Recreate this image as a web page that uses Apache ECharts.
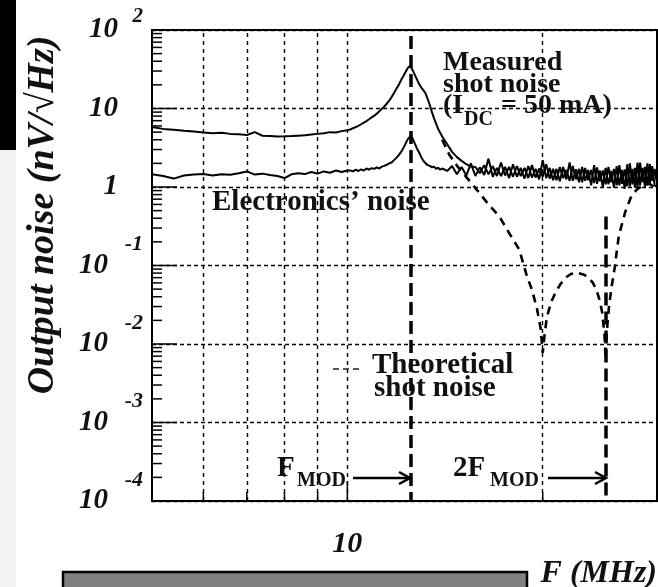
<!DOCTYPE html>
<html>
<head>
<meta charset="utf-8">
<script src="https://cdn.jsdelivr.net/npm/echarts@6.0.0/dist/echarts.min.js"></script>
<style>
html,body{margin:0;padding:0;background:#fff;}
#chart{width:658px;height:587px;}
</style>
</head>
<body>
<div id="chart"></div>
<script>
// ---------- data ----------
const noiseFreq = [
  5.0,5.2,5.4,5.6,5.8,6.0,6.2,6.4,6.6,6.8,7.0,7.2,7.4,7.6,7.8,8.0,8.2,8.4,8.6,8.8,9.0,9.2,9.4,9.6,9.8,10.0,
  10.1,10.2,10.3,10.4,10.5,10.6,10.7,10.8,10.9,11.0,11.1,11.2,11.3,11.4,11.5,11.6,11.7,11.8,11.9,12.0,
  12.1,12.2,12.3,12.4,12.5,12.6,12.7,12.8,12.9,13.0,13.1,13.2,13.3,13.4,13.5,13.6,13.7,13.8,13.9,14.0,
  14.25,14.5,14.75,15.0,15.25,15.5,15.75,16.0,16.25,16.5,16.75,17.0,17.25,17.5,17.75,18.0,
  18.25,18.5,18.75,19.0,19.25,19.5,19.75,20.0,20.25,20.5,20.75,21.0,21.25,21.5,21.75,22.0,
  22.25,22.5,22.75,23.0,23.25,23.5,23.75,24.0,24.25,24.5,24.75,25.0,25.25,25.5,25.75,26.0,
  26.25,26.5,26.75,27.0,27.25,27.5,27.75,28.0,28.25,28.5,28.75,29.0,29.25,29.5,29.75,30.0
];
const measuredNoise = [
  5.8,5.5,5.35,5.2,5.1,4.95,4.85,4.9,4.75,4.7,4.6,5.0,4.5,4.45,4.4,4.42,4.45,4.5,4.55,4.65,4.75,4.85,5.0,4.95,5.15,5.3,
  5.4,5.6,5.8,6.0,6.3,6.6,6.9,7.3,7.7,8.1,8.6,9.2,9.9,10.6,11.5,12.6,14.0,15.8,17.8,20,
  23,26,29.5,33,35,31,27,23.5,20.5,18.5,17,15.5,13.2,11,9,7.5,6.4,5.5,4.9,4.4,
  3.5,2.8,2.4,2.15,1.95,1.82,1.80,1.50,1.90,1.45,1.85,1.38,2.05,1.40,1.80,1.35,
  1.85,1.38,1.75,1.30,1.90,1.32,1.72,1.35,1.95,1.28,1.70,1.22,1.80,1.30,1.65,1.20,
  1.85,1.25,1.70,1.15,1.75,1.22,1.65,1.12,1.78,1.18,1.62,1.08,1.80,1.15,1.70,1.05,
  1.90,1.10,1.68,1.02,2.00,1.08,1.75,1.00,2.05,1.15,1.80,1.05,1.95,1.20,1.70,1.10
];
const electronicsNoise = [
  1.45,1.38,1.28,1.40,1.44,1.46,1.40,1.45,1.43,1.50,1.58,1.44,1.48,1.42,1.38,1.30,1.45,1.50,1.46,1.55,1.48,1.58,1.52,1.62,1.55,1.62,
  1.62,1.58,1.66,1.60,1.68,1.62,1.72,1.66,1.74,1.70,1.78,1.72,1.82,1.86,1.92,2.00,2.05,2.20,2.35,2.55,
  2.80,3.15,3.60,4.10,4.40,4.20,3.60,3.10,2.75,2.40,2.15,2.00,1.90,1.86,1.78,1.82,1.70,1.76,1.66,1.72,
  1.60,1.85,1.45,1.80,1.40,2.00,1.38,1.78,1.42,2.30,1.35,1.75,1.38,1.80,1.30,1.95,
  1.35,1.75,1.28,1.85,1.32,1.70,1.25,2.20,1.30,1.75,1.22,1.70,1.18,1.80,1.25,2.05,
  1.20,1.68,1.15,1.80,1.20,1.65,1.05,1.90,1.10,1.62,1.00,1.75,1.08,1.60,0.98,1.85,
  1.05,1.65,0.95,1.95,1.02,1.70,0.98,2.05,1.05,1.75,1.00,2.00,1.10,1.85,1.05,1.00
];
const theoFreq = [14.0,14.35,14.8,15.3,15.8,16.5,17.15,17.8,18.4,18.9,19.25,19.6,19.85,20.0,20.15,20.3,20.6,20.95,21.3,21.7,22.1,22.6,23.1,23.55,23.9,24.2,24.5,24.7,24.9,25.0,25.1,25.3,25.55,25.8,26.2,26.8,27.4,28.0,28.6,29.2,29.7,30.0];
const theoNoise = [4.0,2.6,1.8,1.3,0.94,0.6,0.42,0.25,0.16,0.074,0.049,0.028,0.016,0.0077,0.014,0.022,0.034,0.046,0.058,0.07,0.078,0.081,0.077,0.07,0.06,0.049,0.035,0.025,0.013,0.0065,0.014,0.03,0.055,0.09,0.24,0.48,0.77,0.95,1.05,1.1,1.0,0.9];

// axis / tick definitions
const xMin = 5, xMax = 30;
const yMin = 0.0001, yMax = 100;
const yTickValues = [100, 10, 1, 0.1, 0.01, 0.001, 0.0001];
const yTickBase   = ['10', '10', '1', '10', '10', '10', '10'];
const yTickExp    = ['2', '', '', '-1', '-2', '-3', '-4'];
const xLabelValues = [10];
const xLabelTexts  = ['10'];
const xGridValues = [6, 7, 8, 9, 10, 20];
const xMinorTicks = [6, 7, 8, 9, 20];
const xMajorTicks = [10];
const yDecades = [0.0001, 0.001, 0.01, 0.1, 1, 10];
const yMinorMult = [2, 3, 4, 5, 6, 7, 8, 9];
const yMajorTicks = [0.001, 0.01, 0.1, 1, 10];
const fModFreq = [12.5, 25];
const fModTop = [84, 0.42];

// ---------- build ----------
const yMinorTicks = [];
yDecades.forEach(d => yMinorMult.forEach(m => yMinorTicks.push([xMin, d * m])));

const SERIF = '"Liberation Serif", "Times New Roman", serif';
const BI = 'bold italic ';
const B = 'bold ';

function yLabel(v) {
  const i = yTickValues.findIndex(t => Math.abs(Math.log10(t) - Math.log10(v)) < 1e-6);
  if (i < 0) return '';
  const e = yTickExp[i], b = yTickBase[i];
  if (e === '') return '{bp|' + b + '}';
  if (e.charAt(0) !== '-') return '{ep|' + e + '}\n{bp|' + b + '}\n{ep| }';
  return '{en|' + e + '}\n{bn|' + b + '}\n{en| }';
}

const chart = echarts.init(document.getElementById('chart'), null, {renderer: 'canvas'});

const gridTop = 30, gridLeft = 152, gridRight = 1, gridBottom = 86;

const markLineData = xGridValues.map(v => ({
  xAxis: v,
  lineStyle: {color: '#000', width: 1.4, type: [4, 4]}
}));
fModFreq.forEach((f, i) => {
  markLineData.push([
    {coord: [f, fModTop[i]], lineStyle: {color: '#000', width: 3.5, type: [13, 6]}},
    {coord: [f, yMin]}
  ]);
});

const option = {
  animation: false,
  backgroundColor: '#fff',
  grid: {left: gridLeft, right: gridRight, top: gridTop, bottom: gridBottom, show: true,
         borderColor: '#000', borderWidth: 2, backgroundColor: 'transparent', containLabel: false},
  xAxis: {
    type: 'log', logBase: 10, min: xMin, max: xMax,
    axisLine: {show: false}, axisTick: {show: false}, splitLine: {show: false},
    axisLabel: {
      show: true, margin: 28, color: '#111',
      fontFamily: SERIF, fontWeight: 'bold', fontStyle: 'italic', fontSize: 30,
      showMinLabel: false, showMaxLabel: false,
      formatter: v => {
        const i = xLabelValues.findIndex(t => Math.abs(t - v) < 1e-6);
        return i < 0 ? '' : xLabelTexts[i];
      }
    }
  },
  yAxis: {
    type: 'log', logBase: 10, min: yMin, max: yMax,
    axisLine: {show: false}, axisTick: {show: false},
    splitLine: {show: true, lineStyle: {color: '#000', width: 1.4, type: [4, 3]}},
    axisLabel: {
      show: true, margin: 9, color: '#111', align: 'right',
      fontFamily: SERIF, fontWeight: 'bold', fontStyle: 'italic', fontSize: 28,
      formatter: yLabel,
      rich: {
        bp: {fontFamily: SERIF, fontWeight: 'bold', fontStyle: 'italic', fontSize: 29, lineHeight: 20, padding: [0, 25, 0, 0], color: '#111'},
        bn: {fontFamily: SERIF, fontWeight: 'bold', fontStyle: 'italic', fontSize: 29, lineHeight: 20, padding: [0, 35, 0, 0], color: '#111'},
        ep: {fontFamily: SERIF, fontWeight: 'bold', fontStyle: 'italic', fontSize: 21, lineHeight: 6, color: '#111'},
        en: {fontFamily: SERIF, fontWeight: 'bold', fontStyle: 'italic', fontSize: 22, lineHeight: 22, color: '#111'}
      }
    }
  },
  series: [
    {
      name: 'Electronics noise', type: 'line', showSymbol: false, symbol: 'none',
      data: noiseFreq.map((f, i) => [f, electronicsNoise[i]]),
      lineStyle: {color: '#000', width: 2}, z: 5,
      markLine: {silent: true, symbol: ['none', 'none'], label: {show: false}, animation: false, data: markLineData}
    },
    {
      name: 'Measured shot noise', type: 'line', showSymbol: false, symbol: 'none',
      data: noiseFreq.map((f, i) => [f, measuredNoise[i]]),
      lineStyle: {color: '#000', width: 2}, z: 5
    },
    {
      name: 'Theoretical shot noise', type: 'line', showSymbol: false, symbol: 'none',
      data: theoFreq.map((f, i) => [f, theoNoise[i]]),
      lineStyle: {color: '#000', width: 2.6, type: [8, 6]}, z: 5
    },
    {
      type: 'custom', name: 'yMinor', clip: false, silent: true, z: 6,
      data: yMinorTicks,
      renderItem: (params, api) => {
        const p = api.coord([api.value(0), api.value(1)]);
        return {type: 'line', shape: {x1: p[0], y1: p[1], x2: p[0] + 10, y2: p[1]}, style: {stroke: '#000', lineWidth: 1.5}};
      }
    },
    {
      type: 'custom', name: 'yMajor', clip: false, silent: true, z: 6,
      data: yMajorTicks.map(v => [xMin, v]),
      renderItem: (params, api) => {
        const p = api.coord([api.value(0), api.value(1)]);
        return {type: 'line', shape: {x1: p[0], y1: p[1], x2: p[0] + 25, y2: p[1]}, style: {stroke: '#000', lineWidth: 1.5}};
      }
    },
    {
      type: 'custom', name: 'xMinor', clip: false, silent: true, z: 6,
      data: xMinorTicks.map(v => [v, yMin]),
      renderItem: (params, api) => {
        const p = api.coord([api.value(0), api.value(1)]);
        return {type: 'line', shape: {x1: p[0], y1: p[1], x2: p[0], y2: p[1] - 9}, style: {stroke: '#000', lineWidth: 1.5}};
      }
    },
    {
      type: 'custom', name: 'xMajor', clip: false, silent: true, z: 6,
      data: xMajorTicks.map(v => [v, yMin]),
      renderItem: (params, api) => {
        const p = api.coord([api.value(0), api.value(1)]);
        return {type: 'line', shape: {x1: p[0], y1: p[1], x2: p[0], y2: p[1] - 20}, style: {stroke: '#000', lineWidth: 1.5}};
      }
    }
  ],
  graphic: [
    {type: 'rect', shape: {x: 0, y: 0, width: 16, height: 150}, style: {fill: '#000'}, z: 1},
    {type: 'rect', shape: {x: 0, y: 150, width: 16, height: 437}, style: {fill: '#f3f3f3'}, z: 1},
    {type: 'rect', shape: {x: 63, y: 572, width: 464, height: 20}, style: {fill: '#808080', stroke: '#000', lineWidth: 2.5}, z: 1},
    {type: 'text', x: 43, y: 215, rotation: Math.PI / 2,
     style: {text: 'Output noise (nV/√Hz)', font: BI + '38px ' + SERIF, fill: '#111', align: 'center', verticalAlign: 'middle'}},
    {type: 'text', x: 657, y: 574,
     style: {text: 'F (MHz)', font: BI + '32px ' + SERIF, fill: '#111', align: 'right', verticalAlign: 'middle'}},
    // Measured shot noise annotation
    {type: 'text', x: 443, y: 63, style: {text: 'Measured', font: B + '28px ' + SERIF, fill: '#111', align: 'left', verticalAlign: 'middle'}, z: 20},
    {type: 'text', x: 443, y: 85, style: {text: 'shot noise', font: B + '28px ' + SERIF, fill: '#111', align: 'left', verticalAlign: 'middle'}, z: 20},
    {type: 'text', x: 443, y: 106, style: {text: '(I', font: B + '28px ' + SERIF, fill: '#111', align: 'left', verticalAlign: 'middle'}, z: 20},
    {type: 'text', x: 464, y: 120, style: {text: 'DC', font: B + '20px ' + SERIF, fill: '#111', align: 'left', verticalAlign: 'middle'}, z: 20},
    {type: 'text', x: 501, y: 106, style: {text: '= 50 mA)', font: B + '28px ' + SERIF, fill: '#111', align: 'left', verticalAlign: 'middle'}, z: 20},
    // Electronics noise
    {type: 'text', x: 212, y: 203, style: {text: 'Electronics’ noise', font: B + '29px ' + SERIF, fill: '#111', align: 'left', verticalAlign: 'middle'}, z: 20},
    // Theoretical
    {type: 'polyline', shape: {points: [[333, 369], [361, 369]]}, style: {stroke: '#222', lineWidth: 1.3, lineDash: [6, 4]}, z: 20},
    {type: 'text', x: 372, y: 366, style: {text: 'Theoretical', font: B + '29px ' + SERIF, fill: '#111', align: 'left', verticalAlign: 'middle'}, z: 20},
    {type: 'text', x: 374, y: 389, style: {text: 'shot noise', font: B + '29px ' + SERIF, fill: '#111', align: 'left', verticalAlign: 'middle'}, z: 20},
    // F_MOD
    {type: 'text', x: 277, y: 469, style: {text: 'F', font: B + '29px ' + SERIF, fill: '#111', align: 'left', verticalAlign: 'middle'}, z: 20},
    {type: 'text', x: 297, y: 481, style: {text: 'MOD', font: B + '20px ' + SERIF, fill: '#111', align: 'left', verticalAlign: 'middle'}, z: 20},
    {type: 'polyline', shape: {points: [[353, 478], [409, 478]]}, style: {stroke: '#000', lineWidth: 2.5}, z: 20},
    {type: 'polyline', shape: {points: [[399, 472], [410, 478], [399, 484]]}, style: {stroke: '#000', lineWidth: 2.5, fill: null}, z: 20},
    // 2F_MOD
    {type: 'text', x: 453, y: 469, style: {text: '2F', font: B + '29px ' + SERIF, fill: '#111', align: 'left', verticalAlign: 'middle'}, z: 20},
    {type: 'text', x: 490, y: 481, style: {text: 'MOD', font: B + '20px ' + SERIF, fill: '#111', align: 'left', verticalAlign: 'middle'}, z: 20},
    {type: 'polyline', shape: {points: [[548, 478], [605, 478]]}, style: {stroke: '#000', lineWidth: 2.5}, z: 20},
    {type: 'polyline', shape: {points: [[595, 472], [606, 478], [595, 484]]}, style: {stroke: '#000', lineWidth: 2.5, fill: null}, z: 20}
  ]
};
chart.setOption(option);
</script>
</body>
</html>
